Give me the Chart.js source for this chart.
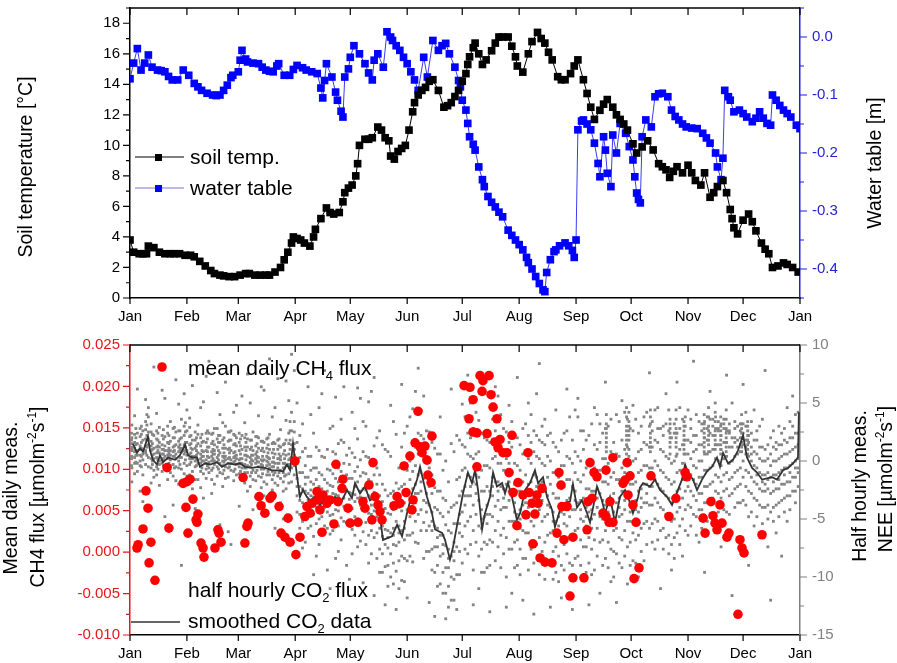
<!DOCTYPE html>
<html>
<head>
<meta charset="utf-8">
<title>Soil temperature, water table, CH4 and CO2 flux</title>
<script src="https://cdn.jsdelivr.net/npm/chart.js@4.4.1/dist/chart.umd.min.js"></script>
<style>
  body { margin: 0; background: #fff; }
  #wrap { position: relative; width: 897px; height: 663px; }
  #topChart { position: absolute; left: 0; top: 0; }
  #bottomChart { position: absolute; left: 0; top: 330px; }
</style>
</head>
<body>
<div id="wrap">
  <canvas id="topChart" width="897" height="330"></canvas>
  <canvas id="bottomChart" width="897" height="333"></canvas>
</div>
<script>
// x axis: day of year
const monthStarts = [0, 31, 59, 90, 120, 151, 181, 212, 243, 273, 304, 334, 365];
const monthLabels = ['Jan', 'Feb', 'Mar', 'Apr', 'May', 'Jun', 'Jul', 'Aug', 'Sep', 'Oct', 'Nov', 'Dec', 'Jan'];

const tempTicks = [0, 2, 4, 6, 8, 10, 12, 14, 16, 18];
const waterTicks = [-0.4, -0.3, -0.2, -0.1, 0.0];
const ch4Ticks = [-0.010, -0.005, 0.000, 0.005, 0.010, 0.015, 0.020, 0.025];
const neeTicks = [-15, -10, -5, 0, 5, 10];

// [day, soil temperature °C]
const soilTemp = [
  [0,3.8],[2,3.0],[5,2.9],[7,2.9],[9,2.9],[10,3.4],[13,3.3],[16,3.0],[19,2.9],[22,2.9],[24,2.9],[27,2.9],
  [30,2.8],[33,2.8],[35,2.7],[38,2.4],[41,2.1],[44,1.8],[46,1.6],[49,1.5],[51,1.45],[54,1.4],[57,1.4],
  [60,1.5],[63,1.6],[65,1.6],[68,1.5],[71,1.5],[74,1.5],[76,1.5],[79,1.7],[82,2.0],[84,2.5],[86,3.0],
  [88,3.6],[89,4.0],[91,3.9],[93,3.8],[95,3.6],[98,3.4],[100,4.0],[101,4.5],[104,5.2],[107,5.9],[109,5.6],
  [111,5.5],[114,5.6],[116,6.3],[117,6.9],[119,7.2],[121,7.4],[123,8.0],[124,8.8],[125,10.0],[128,10.4],
  [130,10.4],[132,10.5],[135,11.2],[137,11.0],[139,10.5],[141,10.3],[142,9.3],[144,9.1],[146,9.6],[148,9.8],
  [150,10.0],[152,11.0],[154,12.2],[155,12.8],[157,13.3],[159,13.6],[161,13.8],[163,14.2],[165,14.3],
  [168,13.6],[171,12.5],[173,12.6],[175,12.8],[177,13.2],[179,13.6],[181,14.2],[183,14.7],[184,15.3],
  [185,15.8],[187,16.4],[188,16.7],[190,16.0],[192,15.3],[194,15.6],[197,16.2],[199,16.7],[201,17.1],
  [203,17.1],[206,17.1],[208,16.5],[210,15.8],[211,15.2],[214,14.8],[217,16.0],[219,16.8],[222,17.4],
  [224,17.0],[226,16.7],[228,16.1],[230,15.6],[233,14.5],[235,14.3],[237,14.3],[240,14.7],[242,15.2],
  [244,15.6],[247,14.3],[249,13.4],[251,12.5],[253,11.7],[256,12.3],[258,12.7],[260,13.0],[263,12.5],
  [265,12.0],[267,11.7],[269,11.4],[271,11.0],[274,10.1],[276,9.5],[279,9.9],[282,10.3],[285,9.7],
  [288,8.8],[290,8.6],[292,8.4],[294,7.9],[296,8.3],[298,8.6],[301,8.2],[304,8.7],[306,8.2],[308,7.7],
  [311,7.4],[313,8.2],[316,6.6],[318,6.9],[320,7.3],[323,7.7],[325,6.9],[327,5.8],[328,5.2],[329,4.6],
  [331,4.2],[334,5.1],[337,5.5],[339,5.0],[341,4.4],[344,3.6],[346,3.2],[348,2.9],[350,2.0],[353,2.1],
  [356,2.3],[358,2.2],[361,2.0],[364,1.7]
];

// [day, water table m]
const waterTable = [
  [0,-0.072],[2,-0.045],[4,-0.020],[6,-0.057],[8,-0.045],[10,-0.031],[12,-0.052],[15,-0.057],[17,-0.058],
  [19,-0.060],[21,-0.068],[23,-0.074],[26,-0.074],[29,-0.057],[32,-0.066],[35,-0.080],[37,-0.086],
  [39,-0.092],[42,-0.097],[45,-0.100],[47,-0.101],[49,-0.100],[51,-0.092],[53,-0.083],[55,-0.070],
  [56,-0.066],[59,-0.060],[60,-0.040],[61,-0.023],[63,-0.038],[64,-0.043],[67,-0.045],[70,-0.046],
  [72,-0.052],[74,-0.057],[76,-0.059],[78,-0.060],[80,-0.050],[81,-0.046],[84,-0.066],[87,-0.066],
  [89,-0.056],[91,-0.049],[94,-0.053],[96,-0.057],[99,-0.060],[102,-0.063],[104,-0.088],[105,-0.105],
  [106,-0.075],[107,-0.046],[110,-0.069],[112,-0.095],[113,-0.109],[115,-0.128],[116,-0.138],[117,-0.069],
  [119,-0.055],[120,-0.035],[122,-0.015],[125,-0.029],[128,-0.046],[130,-0.062],[132,-0.074],[133,-0.040],
  [135,-0.029],[138,-0.052],[140,0.009],[142,0.000],[143,-0.006],[145,-0.015],[147,-0.023],[149,-0.035],
  [151,-0.046],[153,-0.060],[155,-0.074],[157,-0.092],[160,-0.035],[162,-0.069],[165,-0.006],[168,-0.023],
  [170,-0.015],[172,-0.011],[174,-0.029],[177,-0.052],[179,-0.075],[180,-0.086],[181,-0.109],[183,-0.126],
  [184,-0.149],[185,-0.172],[187,-0.185],[188,-0.195],[190,-0.224],[192,-0.246],[193,-0.258],[195,-0.275],
  [197,-0.285],[199,-0.293],[201,-0.302],[203,-0.310],[206,-0.333],[208,-0.342],[210,-0.350],[212,-0.358],
  [214,-0.367],[216,-0.380],[217,-0.389],[219,-0.400],[221,-0.413],[223,-0.425],[225,-0.436],[226,-0.439],
  [227,-0.406],[229,-0.384],[231,-0.370],[232,-0.367],[234,-0.360],[237,-0.355],[239,-0.360],[241,-0.368],
  [242,-0.380],[243,-0.350],[244,-0.160],[246,-0.145],[247,-0.143],[249,-0.150],[251,-0.160],[253,-0.183],
  [255,-0.218],[256,-0.241],[258,-0.172],[259,-0.195],[260,-0.235],[262,-0.258],[263,-0.169],[265,-0.200],
  [267,-0.149],[270,-0.166],[272,-0.189],[274,-0.212],[275,-0.241],[276,-0.269],[277,-0.280],[278,-0.286],
  [279,-0.172],[281,-0.143],[284,-0.155],[286,-0.103],[288,-0.098],[290,-0.097],[293,-0.103],[295,-0.126],
  [297,-0.137],[299,-0.143],[301,-0.150],[303,-0.155],[306,-0.157],[309,-0.158],[312,-0.166],[314,-0.174],
  [316,-0.183],[319,-0.200],[320,-0.224],[322,-0.246],[323,-0.209],[324,-0.092],[326,-0.103],[327,-0.109],
  [329,-0.129],[332,-0.126],[334,-0.132],[336,-0.138],[339,-0.146],[341,-0.140],[343,-0.129],[345,-0.140],
  [347,-0.149],[349,-0.152],[350,-0.100],[352,-0.109],[354,-0.118],[356,-0.126],[358,-0.132],[360,-0.138],
  [363,-0.152],[365,-0.158]
];

// [day, mean daily CH4 flux]
const ch4Flux = [
  [3.8,0.0005],[4.4,0.0009],[7.1,0.0028],[8.7,0.0074],[9.8,0.0053],[10.4,-0.0013],[11.4,0.0012],[13.6,-0.0034],
  [20.2,0.0102],[21.2,0.0029],[28.9,0.0083],[31.1,0.0085],[32.7,0.0088],[30.5,0.0054],[31.6,0.0023],
  [34.3,0.0064],[36.0,0.0039],[37.0,0.0046],[36.5,0.0036],[38.7,0.0011],[39.8,0.0005],[40.3,-0.0006],
  [46.3,0.0005],[47.9,0.0027],[48.5,0.0023],[49.6,0.0012],[61.6,0.0090],[62.6,0.0011],[63.7,0.0031],
  [64.3,0.0035],[70.3,0.0067],[71.4,0.0056],[73.5,0.0047],[76.3,0.0065],[77.4,0.0068],[81.2,0.0055],
  [82.3,0.0023],[84.4,0.0018],[87.2,0.0012],[86.1,0.0041],[89.9,0.0110],[90.4,-0.0003],[92.6,0.0018],
  [95.3,0.0043],[96.4,0.0055],[98.1,0.0047],[99.2,0.0059],[101.9,0.0073],[102.4,0.0063],[104.6,0.0024],
  [103.5,0.0051],[105.1,0.0069],[107.3,0.0059],[109.0,0.0063],[111.1,0.0034],[112.2,0.0106],[113.3,0.0061],
  [116.0,0.0088],[115.5,0.0077],[118.8,0.0053],[119.9,0.0035],[124.2,0.0036],[126.9,0.0061],[128.0,0.0053],
  [130.2,0.0081],[131.8,0.0039],[132.4,0.0108],[133.5,0.0067],[135.1,0.0057],[136.2,0.0049],[137.3,0.0039],
  [143.8,0.0056],[145.5,0.0067],[147.1,0.0059],[150.4,0.0072],[149.3,0.0104],[152.5,0.0116],[154.2,0.0063],
  [153.6,0.0051],[155.3,0.0132],[156.9,0.0170],[158.0,0.0127],[159.1,0.0120],[160.7,0.0128],[161.8,0.0111],
  [162.3,0.0093],[164.0,0.0084],[164.5,0.0140],[182.0,0.0201],[185.2,0.0199],[186.9,0.0184],[190.7,0.0213],
  [192.3,0.0207],[195.6,0.0213],[191.8,0.0194],[196.7,0.0190],[197.8,0.0175],[199.9,0.0161],[184.7,0.0161],
  [186.9,0.0145],[189.0,0.0144],[194.5,0.0143],[198.8,0.0133],[201.6,0.0136],[200.5,0.0126],[203.2,0.0120],
  [205.4,0.0120],[208.1,0.0141],[189.0,0.0103],[206.5,0.0096],[208.7,0.0072],[211.4,0.0084],[210.8,0.0032],
  [214.1,0.0069],[216.8,0.0120],[215.7,0.0045],[217.4,0.0072],[219.0,0.0059],[220.6,0.0046],[221.7,0.0069],
  [222.3,0.0059],[219.5,0.0010],[224.5,0.0077],[223.4,-0.0007],[226.1,-0.0012],[229.9,-0.0013],[232.6,0.0023],
  [233.7,0.0096],[234.8,0.0081],[236.4,0.0015],[235.3,0.0055],[238.1,0.0055],[241.3,0.0018],[239.7,-0.0053],
  [241.3,-0.0031],[247.3,-0.0031],[249.0,0.0027],[249.5,0.0061],[250.6,0.0108],[251.7,0.0065],[252.8,0.0096],
  [254.4,0.0091],[257.7,0.0047],[259.3,0.0099],[259.3,0.0043],[261.0,0.0036],[261.5,0.0061],[263.1,0.0036],
  [263.1,0.0114],[268.6,0.0083],[269.7,0.0087],[270.8,0.0108],[272.4,0.0092],[271.3,0.0069],[274.0,0.0057],
  [274.6,-0.0032],[275.7,0.0036],[277.3,-0.0019],[283.8,0.0092],[293.6,0.0043],[297.4,0.0065],[302.4,0.0096],
  [303.4,0.0091],[312.2,0.0041],[313.3,0.0023],[316.5,0.0061],[317.6,0.0044],[318.7,0.0035],[319.8,0.0027],
  [321.4,0.0057],[322.5,0.0035],[325.2,0.0018],[326.3,0.0023],[332.3,0.0015],[333.4,0.0005],[334.5,-0.0001],
  [331.2,-0.0075],[344.3,0.0021]
];

// [day, smoothed NEE]
const co2Smoothed = [
  [1.6,1.5],[3.8,0.7],[5.4,1.1],[7.1,0.8],[9.8,2.1],[10.9,0.9],[12.5,0.1],[14.7,-0.3],[16.3,0.5],[18.0,-0.1],
  [20.7,0.3],[24.5,0.1],[27.2,0.5],[30.0,1.4],[31.6,0.5],[33.8,0.3],[36.5,0.3],[38.1,-0.5],[40.9,-0.2],
  [43.6,-0.3],[47.4,-0.1],[50.1,-0.5],[53.4,-0.2],[57.2,-0.3],[59.9,-0.2],[62.6,-0.5],[66.5,-0.6],[69.7,-0.5],
  [73.5,-0.6],[77.4,-0.8],[80.6,-0.8],[83.4,-0.9],[85.5,-0.3],[87.2,-0.8],[88.8,1.5],[89.9,0.1],[91.5,-1.9],
  [92.6,-3.1],[94.2,-2.5],[96.4,-3.1],[98.1,-3.4],[100.8,-3.1],[103.5,-3.8],[106.2,-3.2],[109.0,-3.6],
  [111.7,-3.1],[115.5,-3.4],[118.2,-2.5],[120.9,-3.2],[122.6,-1.9],[125.3,-2.8],[128.0,-2.2],[130.7,-3.4],
  [133.5,-3.1],[136.2,-4.8],[137.8,-6.8],[142.7,-6.5],[145.5,-5.5],[148.2,-6.5],[150.9,-4.5],[153.6,-2.8],
  [156.4,-1.6],[158.0,-0.5],[159.6,-1.6],[161.8,-3.1],[164.5,-4.5],[166.2,-5.9],[170.0,-6.2],[171.6,-6.8],
  [174.3,-8.5],[176.0,-7.4],[178.7,-5.1],[181.4,-2.8],[184.1,-1.0],[186.3,-1.9],[188.0,-0.8],[189.6,-2.5],
  [191.8,-5.9],[193.4,-4.5],[196.1,-3.1],[197.8,-1.0],[199.9,-2.2],[202.7,-1.9],[204.3,-2.8],[205.9,-1.9],
  [208.1,-3.1],[210.8,-5.1],[212.5,-4.5],[215.2,-2.5],[217.9,-1.9],[220.6,-0.8],[222.3,-1.9],[225.0,-1.4],
  [227.2,-3.1],[229.9,-4.2],[231.5,-5.7],[234.3,-4.2],[237.0,-3.6],[239.7,-3.5],[241.3,-2.0],[243.5,-4.0],
  [246.2,-3.4],[249.0,-4.5],[250.6,-5.3],[252.3,-4.0],[254.4,-2.2],[257.1,-3.4],[258.8,-4.5],[261.5,-3.1],
  [264.2,-5.3],[266.9,-3.1],[269.7,-2.5],[272.4,-3.6],[274.0,-4.5],[276.8,-3.1],[277.8,-2.3],[279.5,-1.9],
  [283.3,-2.2],[286.0,-1.6],[288.7,-2.5],[292.6,-3.1],[295.3,-3.8],[298.0,-2.7],[300.7,-1.6],[302.4,-0.3],
  [304.0,-1.0],[306.7,-1.6],[308.9,-2.5],[311.6,-1.6],[314.3,-0.9],[317.1,-0.5],[319.8,0.3],[321.4,-0.5],
  [323.1,0.7],[325.8,-0.2],[328.5,0.1],[331.2,0.9],[334.0,2.2],[336.1,0.3],[338.9,-0.6],[341.6,-1.0],
  [344.3,-1.6],[347.0,-1.5],[349.7,-1.4],[352.5,-1.6],[355.8,-0.8],[358.5,-0.6],[361.2,-0.2],[363.9,0.3],
  [364.4,4.2]
];

// half hourly NEE, grouped by day: [day, [values]]
const co2HalfHourly = [
  [1,[1.2,0.4,2.0,-0.6,3.1,0.9,-1.8]],[4,[0.5,1.5,-0.2,2.4,0.9,6.2,-0.9]],[7,[1.0,0.1,1.8,-1.2,2.6,0.6,-3.5]],
  [10,[2.5,3.8,1.4,0.3,4.6,-0.5,1.9]],[13,[0.2,1.1,-0.8,2.2,0.6,8.1,-1.4]],[16,[0.7,-0.3,1.6,0.0,2.9,-2.1,1.2]],
  [19,[0.4,1.3,-0.6,2.1,0.9,5.4,-4.8]],[22,[0.1,0.9,1.7,-1.0,3.4,0.5,-0.4]],[25,[0.6,-0.5,1.4,0.2,2.5,7.0,-1.7]],
  [28,[1.1,0.3,2.0,-0.7,3.6,0.8,-9.0]],[31,[0.5,1.6,-0.4,2.6,0.9,4.4,-1.3]],[34,[0.2,1.0,-0.9,1.8,0.4,6.5,-2.4]],
  [37,[0.7,-0.2,1.5,0.1,2.3,-1.6,3.1]],[40,[0.0,0.8,-1.1,1.7,0.4,5.1,-3.2]],[43,[0.3,-0.6,1.2,2.4,-0.1,8.6,-1.0]],
  [46,[0.6,-0.3,1.4,0.0,2.8,-2.0,0.9]],[49,[-0.2,0.7,1.6,-1.0,2.2,4.0,-5.5]],[52,[0.4,-0.5,1.1,0.1,3.0,-1.5,6.8]],
  [55,[0.1,0.9,-0.8,1.8,-0.2,2.6,-7.2]],[58,[-0.3,0.5,1.3,-1.2,2.0,0.2,4.8]],[61,[0.2,-0.6,1.0,-1.4,2.2,5.6,-0.2]],
  [64,[-0.4,0.4,1.2,-1.0,1.9,-2.6,7.5]],[67,[0.0,-0.8,0.9,-1.6,2.5,0.5,-4.2]],[70,[-0.5,0.3,1.1,-1.3,2.0,3.9,-0.1]],
  [73,[0.1,-0.7,0.8,-1.8,1.6,-3.0,6.1]],[76,[-0.6,0.2,1.0,-1.2,2.3,8.8,-0.3]],[79,[-0.2,-1.0,0.6,-1.9,1.5,4.6,-5.8]],
  [82,[-0.8,0.1,1.2,-1.5,2.7,-3.6,0.4]],[85,[-0.4,0.5,-1.2,1.8,3.5,-2.4,6.9]],[88,[0.3,1.4,-0.6,2.6,4.2,-1.8,9.2]],
  [91,[-1.5,-3.0,0.2,-4.4,1.6,-2.2,5.0]],[94,[-2.4,-3.6,-1.0,-5.2,0.8,-7.5,3.2]],[97,[-2.8,-1.4,-4.2,0.4,-5.8,6.4,-3.4]],
  [100,[-3.1,-2.0,-4.6,-0.6,-6.5,2.4,-9.8]],[103,[-3.5,-2.2,-5.0,-1.0,0.9,-7.2,4.6]],[106,[-2.7,-4.0,-1.6,-5.6,0.3,7.8,-3.2]],
  [109,[-3.3,-2.1,-4.7,-0.8,-6.3,2.8,-11.0]],[112,[-2.9,-4.2,-1.5,-5.5,0.6,-8.4,5.5]],[115,[-3.4,-2.3,-4.9,-0.9,1.8,-6.8,3.6]],
  [118,[-2.5,-3.8,-1.2,-5.3,0.5,8.4,-9.0]],[121,[-2.8,-4.1,-1.5,-5.9,0.7,-8.0,4.2]],[124,[-1.8,-3.2,-0.5,-5.0,1.9,-7.4,6.3]],
  [127,[-2.4,-3.9,-1.0,-6.1,0.8,3.4,-10.5]],[130,[-3.0,-4.5,-1.6,-6.4,0.3,-8.8,5.1]],[133,[-2.7,-4.3,-1.2,-6.6,1.3,7.2,-11.6]],
  [136,[-4.4,-5.8,-3.0,-7.6,-1.2,2.6,-9.6]],[139,[-5.9,-4.1,-7.2,-2.5,-9.1,1.0,-12.4]],[142,[-6.2,-4.6,-8.0,-2.8,-10.0,0.4,4.8]],
  [145,[-5.2,-3.6,-7.3,-1.9,-9.5,2.3,-12.8]],[148,[-6.0,-4.3,-8.2,-2.2,-10.3,1.2,6.6]],[151,[-4.2,-2.6,-6.4,-0.8,-8.6,3.0,-11.8]],
  [154,[-2.4,-4.0,-0.9,-6.2,1.5,-8.7,4.5]],[157,[-1.2,-2.8,0.6,-4.6,2.4,-7.1,8.0]],[160,[-1.5,-3.4,0.2,-5.3,1.9,-8.4,5.6]],
  [163,[-3.8,-2.2,-5.6,-0.6,-7.8,2.5,-12.2]],[166,[-5.6,-4.0,-7.4,-2.3,-9.6,1.1,-13.4]],[169,[-6.4,-4.5,-8.2,-2.6,-10.6,0.6,3.8]],
  [172,[-7.3,-5.5,-9.2,-3.4,-11.4,0.0,-13.6]],[175,[-8.2,-6.2,-10.0,-4.0,-12.0,1.5,6.2]],[178,[-5.4,-3.6,-7.4,-1.6,-9.8,2.2,-12.8]],
  [181,[-2.6,-4.4,-0.8,-6.5,1.4,-8.8,4.9]],[184,[-1.2,-3.0,0.6,-5.2,2.4,-8.0,7.4]],[187,[-1.8,-3.8,0.2,-6.0,2.8,-9.4,-12.4]],
  [190,[-3.4,-1.4,-5.6,0.8,-8.2,3.5,-11.0]],[193,[-4.8,-2.6,-7.0,-0.4,-9.6,2.0,5.8]],[196,[-2.6,-4.6,-0.6,-6.8,1.6,-9.0,-13.0]],
  [199,[-1.8,-3.9,0.4,-6.0,2.6,-8.6,6.4]],[202,[-2.2,-4.2,-0.2,-6.4,2.0,-9.2,4.0]],[205,[-2.0,-4.0,0.2,-6.6,2.5,-10.0,-12.6]],
  [208,[-3.0,-1.0,-5.2,1.2,-7.6,3.4,-11.4]],[211,[-4.6,-2.6,-6.8,-0.4,-9.0,2.0,7.2]],[214,[-3.8,-1.8,-6.0,0.6,-8.4,2.8,-12.0]],
  [217,[-2.0,-4.0,0.2,-6.2,2.2,-9.4,5.0]],[220,[-1.2,-3.2,0.8,-5.6,2.6,-8.8,-13.2]],[223,[-2.0,-4.2,0.2,-6.6,1.8,-9.8,8.4]],
  [226,[-2.6,-4.8,-0.4,-7.0,1.4,-10.2,3.6]],[229,[-4.0,-2.0,-6.2,0.0,-8.6,2.4,-12.6]],[232,[-5.2,-3.2,-7.4,-1.0,-9.6,1.2,4.4]],
  [235,[-4.4,-2.4,-6.6,-0.4,-9.0,1.8,-11.8]],[238,[-3.4,-1.6,-5.6,0.4,-8.0,2.6,6.2]],[241,[-2.2,-4.2,-0.2,-6.4,1.8,-9.0,-12.8]],
  [244,[-3.6,-1.6,-5.8,0.4,-8.2,3.8,5.4]],[247,[-3.2,-5.2,-1.2,-7.4,1.0,-9.8,2.6]],[250,[-4.4,-2.4,-6.6,-0.4,-8.8,2.2,-12.4]],
  [253,[-2.6,-4.6,-0.6,-6.8,1.4,-9.4,4.6]],[256,[-2.8,-4.8,-0.8,-7.0,1.6,3.2,-11.4]],[259,[-3.8,-1.8,-6.0,0.2,-8.4,2.8,6.8]],
  [262,[-3.4,-5.4,-1.4,-7.6,0.8,-10.4,3.6]],[265,[-3.6,-1.6,-5.8,0.6,-8.0,4.0,-12.2]],[268,[-2.6,-4.6,-0.6,-6.8,1.8,-9.2,5.2]],
  [271,[-3.2,-5.2,-1.2,-7.4,1.2,3.6,-10.6]],[274,[-4.0,-2.0,-6.2,0.0,-8.6,2.6,4.8]],[277,[-2.6,-1.0,-4.4,0.8,-6.4,2.4,-10.0]],
  [280,[-2.0,-3.6,-0.4,-5.4,1.6,3.8,-8.6]],[283,[-2.2,-0.6,-3.8,1.2,-5.8,3.0,7.6]],[286,[-1.6,-3.2,0.0,-5.0,1.8,-7.6,4.4]],
  [289,[-2.4,-0.8,-4.0,1.0,-6.0,2.8,-11.0]],[292,[-3.0,-1.4,-4.6,0.4,-6.6,3.2,5.8]],[295,[-3.6,-2.0,-5.2,-0.2,-7.2,2.0,-9.4]],
  [298,[-2.6,-1.0,-4.4,0.6,-6.2,2.4,6.8]],[301,[-1.6,-0.2,-3.2,1.4,-5.0,3.6,-8.2]],[304,[-0.8,-2.2,0.6,-3.8,1.8,4.4,-6.4]],
  [307,[-1.6,-0.4,-3.0,0.8,-4.6,2.2,8.6]],[310,[-1.4,-2.8,0.0,-4.2,1.4,-7.0,3.4]],[313,[-0.8,-2.2,0.6,-3.6,2.0,3.4,-9.6]],
  [316,[-0.6,0.8,-2.0,2.4,-3.4,3.6,6.0]],[319,[0.2,-1.2,1.4,-2.6,2.8,3.8,-5.8]],[322,[-0.4,1.0,-1.8,2.2,-3.2,3.2,-7.4]],
  [325,[0.4,-1.0,1.6,-2.4,2.6,-4.4,7.4]],[328,[0.0,-1.4,1.2,-2.8,2.0,5.0,-11.6]],[331,[0.6,-0.8,1.8,-2.2,3.0,1.2,-3.6]],
  [334,[1.4,0.0,2.4,-1.4,3.2,-3.4,6.6]],[337,[0.4,-1.0,1.6,-2.6,-4.8,2.2,-9.0]],[340,[-0.4,-1.8,0.8,-3.2,1.8,4.4,-5.6]],
  [343,[-1.0,-2.4,0.2,-3.8,1.2,-6.4,3.0]],[346,[-1.2,-2.6,0.0,-4.0,1.0,-2.0,7.8]],[349,[-1.4,-0.4,-2.8,0.6,-4.4,2.0,-12.0]],
  [352,[-1.2,0.0,-2.4,1.0,-3.8,1.6,-6.2]],[355,[-0.8,0.4,-2.0,1.4,-3.4,2.4,-8.2]],[358,[-0.6,0.6,-1.8,1.6,-3.0,4.6,-5.2]],
  [361,[-0.2,1.0,-1.4,2.0,-2.6,3.0,5.6]],[364,[0.2,1.4,-1.0,2.4,-2.2,4.2,-0.6]],
  [2.5,[0.8,1.6,-0.2,2.3,0.3,1.1,-1.1,3.9]],[5.5,[1.3,0.5,2.1,-0.4,1.0,2.8,0.0,-2.6]],[8.5,[1.9,0.7,2.7,1.3,-0.3,3.4,0.9,5.3]],
  [11.5,[0.9,1.7,0.2,2.5,-0.6,1.3,3.2,-1.9]],[14.5,[0.3,1.2,-0.5,1.9,0.7,2.6,-1.2,4.1]],[17.5,[0.6,-0.2,1.4,0.1,2.2,-0.9,1.0,6.1]],
  [20.5,[0.9,0.2,1.6,-0.5,2.4,0.5,-1.6,3.0]],[23.5,[0.4,1.2,-0.3,2.0,0.8,-1.3,2.8,-3.8]],[26.5,[0.8,0.0,1.7,-0.6,2.6,1.2,-2.0,4.9]],
  [29.5,[1.4,0.6,2.2,-0.2,3.0,0.9,-1.1,5.8]],[32.5,[0.6,1.4,-0.3,2.1,0.2,-1.2,2.9,3.7]],[35.5,[0.4,1.1,-0.5,1.8,0.0,2.5,-1.6,-4.1]],
  [38.5,[-0.2,0.6,1.3,-0.9,2.0,0.2,-2.3,4.6]],[41.5,[0.1,0.9,-0.7,1.6,-0.2,2.4,-1.5,7.3]],[44.5,[0.0,0.8,-0.8,1.5,0.4,-1.6,2.3,-2.8]],
  [47.5,[0.3,-0.5,1.2,-0.1,1.9,-1.3,2.8,5.9]],[50.5,[-0.4,0.4,1.1,-1.1,1.8,0.0,-2.2,3.3]],[53.5,[0.2,-0.6,1.0,-0.2,1.7,-1.4,2.5,-6.1]],
  [56.5,[-0.1,0.7,-0.9,1.4,0.3,-1.7,2.3,4.2]],[59.5,[0.1,-0.5,0.9,-1.1,1.6,-0.2,2.4,-3.9]],[62.5,[-0.3,0.5,-1.0,1.2,-0.6,2.0,-1.9,3.3]],
  [65.5,[-0.5,0.3,-1.3,1.0,-0.1,1.8,-2.2,5.0]],[68.5,[-0.2,0.6,-1.0,1.3,-1.7,0.2,2.1,-3.1]],[71.5,[-0.7,0.1,-1.4,0.9,-0.3,1.7,-2.3,6.4]],
  [74.5,[-0.4,0.4,-1.2,1.1,-2.0,0.0,1.9,-4.7]],[77.5,[-0.9,-0.1,-1.6,0.7,-0.5,1.5,-2.5,3.8]],[80.5,[-0.6,0.2,-1.3,1.0,-2.1,-0.2,1.8,7.1]],
  [83.5,[-1.0,-0.2,-1.8,0.6,-2.6,1.4,-0.6,-5.0]],[86.5,[-0.3,0.6,-1.1,1.5,-1.9,2.4,0.1,5.2]],[89.5,[0.5,1.5,-0.4,2.5,3.4,-1.2,1.0,7.8]],
  [92.5,[-2.2,-3.4,-1.0,-4.6,0.3,-2.8,-5.8,2.2]],[95.5,[-2.6,-1.4,-3.8,-0.4,-5.0,-2.0,1.1,-7.0]],[98.5,[-3.0,-1.8,-4.2,-0.8,-5.6,-2.5,0.4,4.0]],
  [101.5,[-2.8,-4.0,-1.6,-5.4,-0.6,-3.4,1.2,-8.2]],[104.5,[-3.6,-2.4,-4.8,-1.2,-6.2,-3.0,0.4,5.8]],[107.5,[-3.1,-1.9,-4.4,-0.7,-5.8,-2.6,1.0,-9.4]],
  [110.5,[-3.4,-2.2,-4.6,-1.1,-6.0,-2.8,0.8,3.0]],[113.5,[-3.0,-4.3,-1.8,-5.6,-0.6,-3.6,1.5,-7.8]],[116.5,[-2.6,-3.9,-1.4,-5.2,-0.2,-3.2,1.6,6.4]],
  [119.5,[-2.7,-4.0,-1.5,-5.4,-0.3,-3.3,1.1,-10.2]],[122.5,[-2.2,-3.5,-0.9,-4.8,0.3,-2.9,-6.4,2.8]],[125.5,[-2.6,-3.8,-1.3,-5.2,0.1,-3.1,-6.9,5.4]],
  [128.5,[-2.5,-3.9,-1.1,-5.3,0.4,-3.2,-7.2,3.0]],[131.5,[-3.2,-4.6,-1.8,-6.0,-0.4,-3.8,-8.0,6.0]],[134.5,[-3.4,-4.8,-2.0,-6.2,-0.6,-4.0,-8.4,2.0]],
  [137.5,[-5.0,-6.5,-3.5,-8.0,-2.0,-5.6,-9.6,1.4]],[140.5,[-6.0,-7.5,-4.5,-9.0,-3.0,-6.6,-10.8,0.8]],[143.5,[-5.8,-7.2,-4.2,-8.8,-2.6,-6.4,-10.6,3.4]],
  [146.5,[-5.6,-7.0,-4.0,-8.6,-2.4,-6.2,-11.0,-0.6]],[149.5,[-5.2,-6.8,-3.6,-8.4,-2.0,-5.8,-10.4,2.4]],[152.5,[-3.2,-4.8,-1.6,-6.4,0.0,-4.0,-8.2,3.8]],
  [155.5,[-2.0,-3.6,-0.4,-5.2,1.2,-2.8,-7.0,6.0]],[158.5,[-1.0,-2.6,0.6,-4.2,2.2,-1.8,-6.0,4.4]],[161.5,[-2.8,-4.4,-1.2,-6.0,0.4,-3.6,-7.8,2.6]],
  [164.5,[-4.4,-6.0,-2.8,-7.6,-1.2,-5.2,-9.4,1.6]],[167.5,[-5.8,-7.4,-4.2,-9.0,-2.6,-6.6,-10.8,0.6]],[170.5,[-6.4,-8.0,-4.8,-9.6,-3.2,-7.2,-11.4,-0.8]],
  [173.5,[-7.6,-9.2,-6.0,-10.8,-4.4,-8.4,-12.6,-1.8]],[176.5,[-7.0,-8.6,-5.4,-10.2,-3.8,-7.8,-12.0,0.8]],[179.5,[-4.6,-6.2,-3.0,-7.8,-1.4,-5.4,-9.8,1.8]],
  [182.5,[-2.2,-3.8,-0.6,-5.6,1.2,-3.0,-7.6,3.8]],[185.5,[-1.4,-3.0,0.4,-4.8,2.0,-2.2,-7.2,5.0]],[188.5,[-1.2,-2.8,0.6,-4.6,2.4,-2.0,-7.0,4.2]],
  [191.5,[-4.2,-5.8,-2.6,-7.6,-0.8,-5.0,-9.6,2.4]],[194.5,[-3.8,-5.4,-2.2,-7.2,-0.4,-4.6,-9.2,1.8]],[197.5,[-1.4,-3.0,0.2,-4.8,1.8,-2.2,-7.0,3.6]],
  [200.5,[-1.8,-3.4,-0.2,-5.2,1.4,-2.6,-7.4,5.6]],[203.5,[-2.4,-4.0,-0.8,-5.8,0.8,-3.2,-8.0,2.8]],[206.5,[-1.8,-3.4,-0.2,-5.2,1.6,-2.6,-7.6,4.8]],
  [209.5,[-3.6,-5.2,-2.0,-7.0,-0.2,-4.4,-9.2,2.2]],[212.5,[-4.2,-5.8,-2.6,-7.6,-0.8,-5.0,-9.8,1.4]],[215.5,[-2.8,-4.4,-1.2,-6.2,0.6,-3.6,-8.4,3.2]],
  [218.5,[-1.8,-3.4,-0.2,-5.2,1.6,-2.6,-7.6,4.0]],[221.5,[-1.4,-3.0,0.4,-4.8,2.2,-2.2,-7.2,5.8]],[224.5,[-1.8,-3.4,-0.2,-5.2,1.6,-2.6,-7.8,3.0]],
  [227.5,[-3.0,-4.6,-1.4,-6.4,0.4,-3.8,-8.8,2.2]],[230.5,[-4.4,-6.0,-2.8,-7.8,-1.0,-5.2,-10.2,1.6]],[233.5,[-4.8,-6.4,-3.2,-8.2,-1.4,-5.6,-10.4,0.8]],
  [236.5,[-3.8,-5.4,-2.2,-7.2,-0.4,-4.6,-9.4,2.4]],[239.5,[-3.2,-4.8,-1.6,-6.6,0.2,-4.0,-8.8,3.8]],[242.5,[-2.6,-4.2,-1.0,-6.0,0.8,-3.4,-8.4,4.4]],
  [245.5,[-3.4,-5.0,-1.8,-6.8,0.0,-4.2,-9.0,2.6]],[248.5,[-4.0,-5.6,-2.4,-7.4,-0.6,-4.8,-9.6,1.8]],[251.5,[-4.2,-5.8,-2.6,-7.6,-0.8,-5.0,-9.8,3.2]],
  [254.5,[-2.4,-4.0,-0.8,-5.8,1.0,-3.2,-8.2,4.0]],[257.5,[-3.4,-5.0,-1.8,-6.8,0.2,-4.2,-9.0,2.4]],[260.5,[-3.6,-5.2,-2.0,-7.0,-0.2,-4.4,-9.2,3.0]],
  [263.5,[-4.4,-6.0,-2.8,-7.8,-1.0,-5.2,-10.0,1.6]],[266.5,[-3.2,-4.8,-1.6,-6.6,0.4,-4.0,-8.8,3.4]],[269.5,[-2.6,-4.2,-1.0,-6.0,1.0,-3.4,-8.2,4.2]],
  [272.5,[-3.6,-5.2,-2.0,-7.0,-0.2,-4.4,-9.0,2.8]],[275.5,[-3.4,-5.0,-1.8,-6.8,0.2,-4.2,-8.8,3.6]],[278.5,[-2.4,-4.0,-0.8,-5.8,1.0,-3.2,-7.8,3.0]],
  [281.5,[-2.0,-3.6,-0.4,-5.2,1.4,-2.8,-7.2,4.2]],[284.5,[-2.2,-3.8,-0.6,-5.4,1.2,2.6,-7.0,3.4]],[287.5,[-2.0,-3.6,-0.4,-5.2,1.6,2.8,-6.8,4.6]],
  [290.5,[-2.6,-4.2,-1.0,-5.8,0.8,2.2,-7.6,3.0]],[293.5,[-3.2,-4.8,-1.6,-6.4,0.2,2.6,-8.0,4.4]],[296.5,[-3.4,-5.0,-1.8,-6.6,0.0,2.4,-8.4,3.2]],
  [299.5,[-2.4,-4.0,-0.8,-5.6,1.0,2.8,-7.2,4.6]],[302.5,[-1.0,-2.6,0.6,-4.2,1.8,3.0,-6.0,3.8]],[305.5,[-1.2,-2.6,0.2,-4.0,1.6,2.8,-5.6,3.6]],
  [308.5,[-2.0,-3.4,-0.6,-4.8,1.0,2.2,-6.4,4.0]],[311.5,[-1.4,-2.8,0.0,-4.2,1.4,2.6,-5.8,3.2]],[314.5,[-0.8,-2.2,0.6,-3.6,1.8,2.8,-5.2,3.8]],
  [317.5,[-0.4,-1.8,1.0,-3.2,2.2,3.0,-4.8,3.6]],[320.5,[0.0,-1.4,1.4,-2.8,2.6,3.4,-4.4,2.8]],[323.5,[0.2,-1.2,1.6,-2.6,2.8,3.6,-4.2,3.2]],
  [326.5,[-0.2,-1.6,1.2,-3.0,2.4,3.2,-4.6,2.6]],[329.5,[0.4,-1.0,1.6,-2.4,2.8,3.4,-4.0,2.0]],[332.5,[0.8,-0.6,2.0,-2.0,3.2,1.4,-3.6,2.6]],
  [335.5,[0.6,-0.8,1.8,-2.2,3.0,1.2,-3.8,4.2]],[338.5,[0.0,-1.4,1.2,-2.8,2.4,0.6,-4.4,3.4]],[341.5,[-0.6,-2.0,0.6,-3.4,1.8,-4.8,-1.2,2.6]],
  [344.5,[-1.2,-2.6,0.0,-4.0,1.2,-5.4,-1.8,3.6]],[347.5,[-1.0,-2.4,0.2,-3.8,1.4,-5.0,-1.6,-7.4]],[350.5,[-1.2,-2.6,0.0,-4.0,1.2,-5.2,-1.8,2.6]],
  [353.5,[-1.0,-2.4,0.2,-3.6,1.4,-4.8,-1.6,3.0]],[356.5,[-0.6,-2.0,0.6,-3.2,1.8,-4.4,-1.2,2.8]],[359.5,[-0.4,-1.8,0.8,-3.0,2.0,-4.2,-1.0,3.4]],
  [362.5,[0.0,-1.4,1.2,-2.6,2.4,-3.6,-0.6,4.0]],
  [0.8,[1.5,0.2,2.4,1.0,-0.4,1.8]],[3.2,[0.9,2.0,-0.1,1.4,2.8,0.5]],[6.2,[1.6,0.4,2.3,-0.5,1.1,3.0]],
  [9.2,[2.2,1.2,3.1,0.5,1.8,4.0]],[12.2,[0.5,1.5,-0.3,2.3,1.0,0.0]],[15.2,[0.9,0.1,1.8,-0.7,1.3,2.4]],
  [18.2,[0.2,1.0,1.9,-0.4,0.6,2.7]],[21.2,[0.7,1.5,-0.2,2.2,0.3,1.1]],[24.2,[0.4,1.3,-0.6,2.0,0.9,2.9]],
  [27.2,[1.0,0.3,1.9,-0.3,2.6,1.4]],[30.2,[1.6,0.8,2.5,0.1,1.2,3.3]],[33.2,[0.7,1.5,-0.1,2.2,0.3,1.1]],
  [36.2,[0.5,1.3,-0.4,2.0,0.9,0.1]],[39.2,[0.0,0.9,1.6,-0.6,0.4,2.3]],[42.2,[0.4,1.2,-0.4,1.9,0.8,2.6]],
  [45.2,[0.2,1.0,-0.6,1.7,0.6,2.4]],[48.2,[0.1,0.9,1.6,-0.7,0.5,2.2]],[51.2,[-0.1,0.7,1.4,-0.8,0.3,2.0]],
  [54.2,[0.3,1.1,-0.5,1.8,0.7,2.5]],[57.2,[0.0,0.8,-0.7,1.5,0.4,2.2]],[60.2,[-0.2,0.6,1.3,-0.9,0.2,1.9]],
  [63.2,[0.1,0.9,-0.6,1.6,0.5,2.3]],[66.2,[-0.3,0.5,1.2,-1.0,0.1,1.8]],[69.2,[0.0,0.8,-0.8,1.5,0.4,2.1]],
  [72.2,[-0.4,0.4,1.1,-1.1,0.0,1.7]],[75.2,[-0.1,0.7,-0.9,1.4,0.3,2.0]],[78.2,[-0.5,0.3,1.0,-1.2,-0.1,1.6]],
  [81.2,[-0.2,0.6,-1.0,1.3,0.2,1.9]],[84.2,[-0.6,0.2,0.9,-1.3,-0.2,1.5]],[87.2,[0.2,1.0,1.8,2.6,-0.5,3.4]],
  [259.5,[0.8,1.6,2.4,3.2,4.0,1.2,2.0,2.8]],[270.5,[0.6,1.4,2.2,3.0,3.8,4.6,1.8,2.6]],[271.8,[1.0,1.8,2.6,3.4,4.2,0.4,2.2,3.0]],
  [283.5,[0.8,1.6,2.4,3.2,4.4,1.2,2.0,3.8]],[294.2,[1.2,2.0,2.8,3.6,0.6,1.6,2.4,3.2]],[297.5,[0.4,1.2,2.0,2.8,3.6,4.4,1.6,2.4]],
  [301.8,[1.0,1.8,2.6,3.4,0.6,1.4,2.2,3.0]],[312.8,[0.8,1.6,2.4,3.2,4.0,1.2,2.0,2.8]],[315.2,[1.4,2.2,3.0,3.8,4.6,0.8,1.8,2.6]],
  [318.8,[1.0,1.8,2.6,3.4,4.2,5.0,1.4,2.2]],[321.8,[0.6,1.4,2.2,3.0,3.8,1.0,1.8,2.6]],[324.8,[1.2,2.0,2.8,3.6,4.4,0.8,1.6,2.4]],
  [333.2,[0.8,1.6,2.4,3.2,4.0,1.2,2.0,2.8]],[336.5,[1.0,1.8,2.6,3.4,0.6,1.4,2.2,3.0]]
];

const FONT = "'Liberation Sans', Arial, Helvetica, sans-serif";
const BLUE = '#1f1fd6';
const RED = '#e8141b';
const GREY = '#808080';

function toPoints(pairs) {
  return pairs.map(p => ({ x: p[0], y: p[1] }));
}

function cloudPoints(columns) {
  const out = [];
  columns.forEach(c => c[1].forEach(v => out.push({ x: c[0], y: v })));
  return out;
}

function setTicks(values) {
  return function (scale) { scale.ticks = values.map(v => ({ value: v })); };
}

function xScale(height) {
  return {
    type: 'linear', position: 'bottom', min: 0, max: 365,
    afterBuildTicks: setTicks(monthStarts),
    afterFit: s => { s.height = height; s.paddingLeft = 0; s.paddingRight = 0; },
    grid: { display: false, drawTicks: false },
    border: { display: true, color: '#000', width: 1.5 },
    ticks: {
      color: '#000', font: { family: FONT, size: 15 }, padding: 10,
      autoSkip: false, maxRotation: 0,
      callback: v => monthLabels[monthStarts.indexOf(v)]
    }
  };
}

function yScale(side, min, max, ticks, color, fmt) {
  return {
    type: 'linear', position: side, min: min, max: max,
    afterBuildTicks: setTicks(ticks),
    afterFit: s => { s.width = side === 'left' ? 130 : 97; s.paddingTop = 0; s.paddingBottom = 0; },
    grid: { display: false, drawTicks: false },
    border: { display: true, color: color, width: 1.5 },
    ticks: { color: color, font: { family: FONT, size: 15 }, padding: side === 'left' ? 10 : 12, autoSkip: false, callback: fmt }
  };
}

// text with sub/superscripts, drawn on the canvas; rotated text is centred on x
function drawRich(ctx, parts, x, y, size, align, rotate) {
  ctx.save();
  ctx.translate(x, y);
  if (rotate) ctx.rotate(-Math.PI / 2);
  const small = Math.round(size * 0.62);
  const base = rotate ? size * 0.36 : 0;
  let total = 0;
  parts.forEach(p => {
    ctx.font = (p.sup || p.sub ? small : size) + 'px ' + FONT;
    p.w = ctx.measureText(p.t).width;
    total += p.w;
  });
  let cx = align === 'center' ? -total / 2 : 0;
  ctx.textBaseline = 'alphabetic';
  ctx.textAlign = 'left';
  parts.forEach(p => {
    ctx.font = (p.sup || p.sub ? small : size) + 'px ' + FONT;
    const dy = p.sup ? -size * 0.42 : (p.sub ? size * 0.25 : 0);
    ctx.fillText(p.t, cx, base + dy);
    cx += p.w;
  });
  ctx.restore();
}

// top border, outward/inward tick marks, minor ticks
function framePlugin(axes) {
  return {
    id: 'frame',
    afterDraw(chart) {
      const ctx = chart.ctx, a = chart.chartArea, xs = chart.scales.x;
      ctx.save();
      ctx.lineWidth = 1.5;
      ctx.strokeStyle = '#000';
      ctx.beginPath();
      ctx.moveTo(a.left, a.top);
      ctx.lineTo(a.right, a.top);
      ctx.stroke();
      ctx.lineWidth = 1.2;
      ctx.beginPath();
      monthStarts.forEach(v => {
        const px = xs.getPixelForValue(v);
        ctx.moveTo(px, a.bottom); ctx.lineTo(px, a.bottom + 6);
        ctx.moveTo(px, a.top); ctx.lineTo(px, a.top + 7);
      });
      ctx.stroke();
      axes.forEach(ax => {
        const s = chart.scales[ax.id];
        const left = ax.side === 'left';
        const edge = left ? a.left : a.right;
        const dir = left ? -1 : 1;
        const major = ax.ticks;
        const step = major[1] - major[0];
        const minor = [];
        for (let i = 0; i < major.length - 1; i++) minor.push((major[i] + major[i + 1]) / 2);
        if (major[0] - step / 2 >= s.min - 1e-9) minor.push(major[0] - step / 2);
        const last = major[major.length - 1];
        if (last + step / 2 <= s.max + 1e-9) minor.push(last + step / 2);
        ctx.strokeStyle = ax.color;
        ctx.beginPath();
        major.forEach(v => {
          const py = s.getPixelForValue(v);
          ctx.moveTo(edge, py); ctx.lineTo(edge + dir * 7, py);
        });
        minor.forEach(v => {
          const py = s.getPixelForValue(v);
          ctx.moveTo(edge, py); ctx.lineTo(edge + dir * 4, py);
        });
        ctx.stroke();
      });
      ctx.restore();
    }
  };
}

// axis titles and in-plot legends
function overlayPlugin(draw) {
  return { id: 'overlay', afterDraw(chart) { const ctx = chart.ctx; ctx.save(); draw(ctx, chart); ctx.restore(); } };
}

function unitParts() {
  return [{ t: '[µmolm' }, { t: '-2', sup: true }, { t: 's' }, { t: '-1', sup: true }, { t: ']' }];
}

// ---------- top chart ----------
new Chart(document.getElementById('topChart'), {
  type: 'line',
  data: {
    datasets: [
      {
        label: 'soil temp.', data: toPoints(soilTemp), yAxisID: 'yTemp',
        borderColor: '#000', borderWidth: 1, pointStyle: 'rect', pointRadius: 5.4,
        pointBackgroundColor: '#000', pointBorderWidth: 0, tension: 0
      },
      {
        label: 'water table', data: toPoints(waterTable), yAxisID: 'yWater',
        borderColor: '#3c3cf0', borderWidth: 1, pointStyle: 'rect', pointRadius: 5.4,
        pointBackgroundColor: '#0000ff', pointBorderWidth: 0, tension: 0
      }
    ]
  },
  options: {
    responsive: false, animation: false, devicePixelRatio: 1,
    layout: { padding: { top: 8, left: 0, right: 0, bottom: 0 } },
    plugins: { legend: { display: false }, tooltip: { enabled: false } },
    scales: {
      x: xScale(32),
      yTemp: yScale('left', 0, 19, tempTicks, '#000', v => String(v)),
      yWater: yScale('right', -0.45, 0.05, waterTicks, BLUE, v => v.toFixed(1))
    }
  },
  plugins: [
    framePlugin([
      { id: 'yTemp', side: 'left', ticks: tempTicks, color: '#000' },
      { id: 'yWater', side: 'right', ticks: waterTicks, color: BLUE }
    ]),
    overlayPlugin(ctx => {
      ctx.fillStyle = '#000';
      drawRich(ctx, [{ t: 'Soil temperature [°C]' }], 25, 167, 19.5, 'center', true);
      drawRich(ctx, [{ t: 'Water table [m]' }], 874, 163, 19.5, 'center', true);
      // legend
      ctx.strokeStyle = '#000'; ctx.lineWidth = 1.2;
      ctx.beginPath(); ctx.moveTo(135, 157); ctx.lineTo(184, 157); ctx.stroke();
      ctx.fillStyle = '#000'; ctx.fillRect(155, 154, 7, 7);
      drawRich(ctx, [{ t: 'soil temp.' }], 190, 164, 21, 'left', false);
      ctx.strokeStyle = '#7878d8';
      ctx.beginPath(); ctx.moveTo(135, 188); ctx.lineTo(184, 188); ctx.stroke();
      ctx.fillStyle = '#0000ff'; ctx.fillRect(155, 185, 7, 7);
      ctx.fillStyle = '#000';
      drawRich(ctx, [{ t: 'water table' }], 190, 195, 21, 'left', false);
    })
  ]
});

// ---------- bottom chart ----------
new Chart(document.getElementById('bottomChart'), {
  type: 'line',
  data: {
    datasets: [
      {
        label: 'mean daily CH4 flux', data: toPoints(ch4Flux), yAxisID: 'yCh4', showLine: false,
        pointRadius: 4.8, pointBackgroundColor: '#ff0000', pointBorderWidth: 0, order: 0
      },
      {
        label: 'smoothed CO2 data', data: toPoints(co2Smoothed), yAxisID: 'yNee',
        borderColor: '#333333', borderWidth: 1.8, pointRadius: 0, tension: 0, order: 1
      },
      {
        label: 'half hourly CO2 flux', data: cloudPoints(co2HalfHourly), yAxisID: 'yNee', showLine: false,
        pointStyle: 'rect', pointRadius: 2.0, pointBackgroundColor: '#848484', pointBorderWidth: 0, order: 2
      }
    ]
  },
  options: {
    responsive: false, animation: false, devicePixelRatio: 1,
    layout: { padding: { top: 15, left: 0, right: 0, bottom: 0 } },
    plugins: { legend: { display: false }, tooltip: { enabled: false } },
    scales: {
      x: xScale(28),
      yCh4: yScale('left', -0.010, 0.025, ch4Ticks, RED, v => v.toFixed(3)),
      yNee: yScale('right', -15, 10, neeTicks, GREY, v => String(v))
    }
  },
  plugins: [
    framePlugin([
      { id: 'yCh4', side: 'left', ticks: ch4Ticks, color: RED },
      { id: 'yNee', side: 'right', ticks: neeTicks, color: GREY }
    ]),
    overlayPlugin(ctx => {
      ctx.fillStyle = '#000';
      drawRich(ctx, [{ t: 'Mean daily meas.' }], 10, 168, 19.5, 'center', true);
      drawRich(ctx, [{ t: 'CH4 flux ' }].concat(unitParts()), 37, 167, 19.5, 'center', true);
      drawRich(ctx, [{ t: 'Half hourly meas.' }], 859, 156, 19.5, 'center', true);
      drawRich(ctx, [{ t: 'NEE ' }].concat(unitParts()), 885, 149, 19.5, 'center', true);
      // legend
      ctx.fillStyle = '#ff0000';
      ctx.beginPath(); ctx.arc(162, 37, 4.8, 0, Math.PI * 2); ctx.fill();
      ctx.fillStyle = '#000';
      drawRich(ctx, [{ t: 'mean daily CH' }, { t: '4', sub: true }, { t: ' flux' }], 188, 45, 21, 'left', false);
      drawRich(ctx, [{ t: 'half hourly CO' }, { t: '2', sub: true }, { t: ' flux' }], 188, 267, 21, 'left', false);
      ctx.strokeStyle = '#333333'; ctx.lineWidth = 1.6;
      ctx.beginPath(); ctx.moveTo(131, 292); ctx.lineTo(180, 292); ctx.stroke();
      drawRich(ctx, [{ t: 'smoothed CO' }, { t: '2', sub: true }, { t: ' data' }], 188, 298, 21, 'left', false);
    })
  ]
});
</script>
</body>
</html>
